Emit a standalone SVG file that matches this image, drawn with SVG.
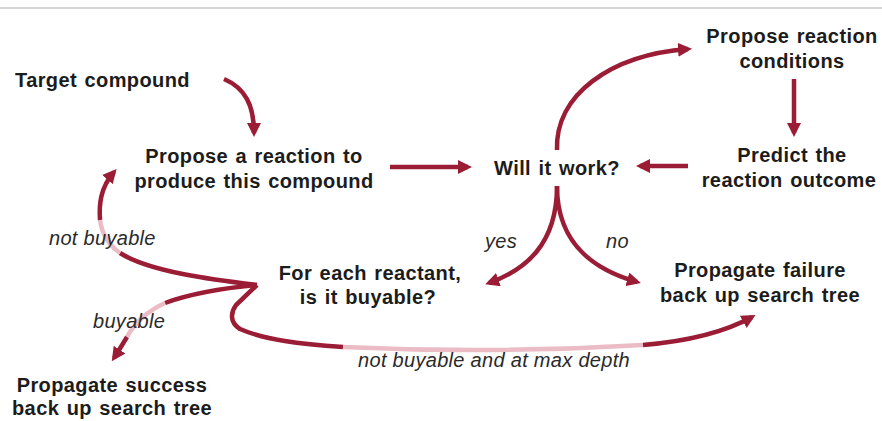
<svg xmlns="http://www.w3.org/2000/svg" width="882" height="421" viewBox="0 0 882 421">
<style>
.n{font-family:"Liberation Sans",Arial,sans-serif;font-weight:bold;font-size:20px;fill:#1c1c1c;text-anchor:middle;word-spacing:1.5px;letter-spacing:0.4px}
.l{font-family:"Liberation Sans",Arial,sans-serif;font-style:italic;font-size:20px;fill:#2a2a2a;letter-spacing:0.3px}
.c{fill:none;stroke:#9b1c35;stroke-width:4.5}
.p{fill:none;stroke:#ebbcc6;stroke-width:4.5}
</style>
<defs>
<marker id="ah" viewBox="0 0 14 14" markerWidth="14" markerHeight="14" markerUnits="userSpaceOnUse" refX="10" refY="7" orient="auto">
<path d="M0,0 L14,7 L0,14 z" fill="#9b1c35"/>
</marker>
</defs>
<rect width="882" height="421" fill="#ffffff"/>
<line x1="0" y1="8" x2="882" y2="8" stroke="#c9c9c9" stroke-width="1.5"/>
<g id="connectors">
<path class="c" d="M224,79 C245,88 254,105 254,133" marker-end="url(#ah)"/>
<path class="c" d="M390,167 L468,167" marker-end="url(#ah)"/>
<path class="c" d="M688,166 L640,166" marker-end="url(#ah)"/>
<path class="c" d="M794,79 L794,133" marker-end="url(#ah)"/>
<path class="c" d="M557,150 C555,95 610,55 688,49" marker-end="url(#ah)"/>
<path class="c" d="M557,186 C557,245 525,270 489,283" marker-end="url(#ah)"/>
<path class="c" d="M557,186 C557,245 595,270 637,282" marker-end="url(#ah)"/>
<path class="c" d="M257,285 C215,280 150,272 120,253"/>
<path class="p" d="M120,253 C110,246 102,235 100,220"/>
<path class="c" d="M100,220 C99,205 100,188 114,172" marker-end="url(#ah)"/>
<path class="c" d="M257,285 C225,288 190,294 165,303"/>
<path class="p" d="M165,303 C150,310 135,322 127,337"/>
<path class="c" d="M127,337 C122,345 118,352 114,358" marker-end="url(#ah)"/>
<path class="c" d="M257,285 L236,305 C231,312 229,322 240,329 C265,340 300,344 343,347"/>
<path class="p" d="M343,347 C450,352 560,350 643,345"/>
<path class="c" d="M643,345 C690,341 725,332 752,317" marker-end="url(#ah)"/>
<text class="l" x="49" y="245">not buyable</text>
<text class="l" x="93" y="328">buyable</text>
<text class="l" x="485" y="248">yes</text>
<text class="l" x="606" y="248">no</text>
<text class="l" x="494" y="367" text-anchor="middle">not buyable and at max depth</text>
</g>
<g id="target"><text class="n" x="15" y="87" style="text-anchor:start">Target compound</text></g>
<g id="propose"><text class="n" x="254" y="163">Propose a reaction to</text><text class="n" x="254" y="188">produce this compound</text></g>
<g id="willwork"><text class="n" x="557" y="175">Will it work?</text></g>
<g id="conditions"><text class="n" x="792" y="43">Propose reaction</text><text class="n" x="792" y="68">conditions</text></g>
<g id="predict"><text class="n" x="792" y="162">Predict the</text><text class="n" x="789" y="187">reaction outcome</text></g>
<g id="buyable"><text class="n" x="370" y="280">For each reactant,</text><text class="n" x="368" y="304">is it buyable?</text></g>
<g id="failure"><text class="n" x="760" y="277">Propagate failure</text><text class="n" x="760" y="302">back up search tree</text></g>
<g id="success"><text class="n" x="112" y="392">Propagate success</text><text class="n" x="112" y="415">back up search tree</text></g>
</svg>
